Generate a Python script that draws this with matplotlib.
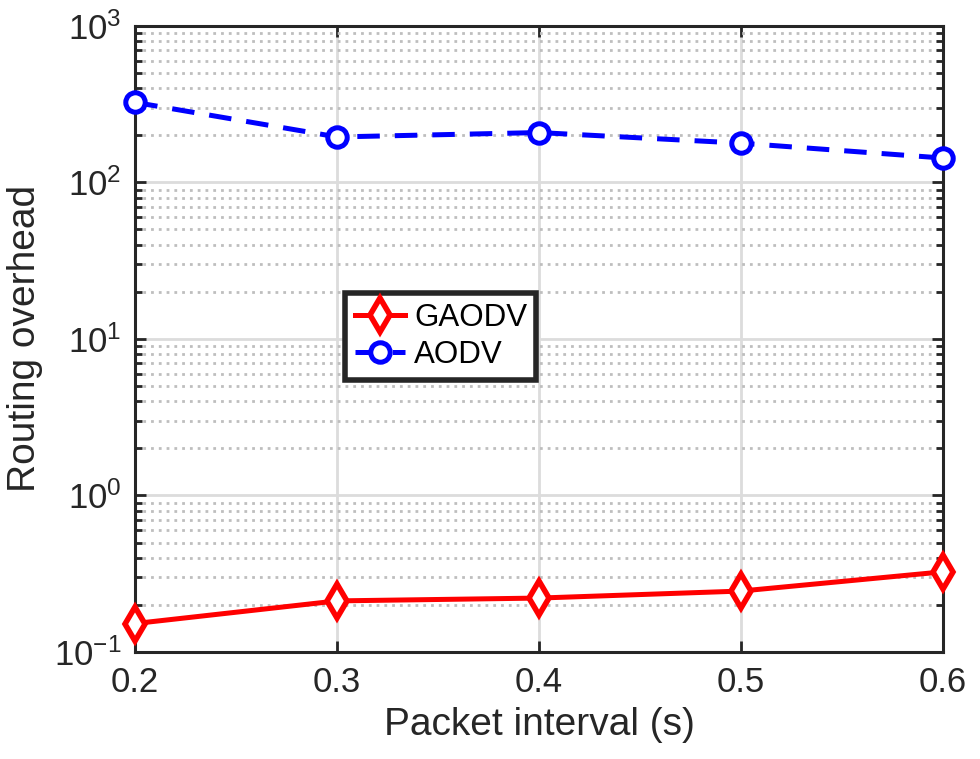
import matplotlib.pyplot as plt
import numpy as np

# values
interval = [0.2, 0.3, 0.4, 0.5, 0.6]
gaodv = [0.152, 0.212, 0.221, 0.245, 0.325]
aodv = [324, 195, 208, 178, 143]

plt.rcParams['font.family'] = ['Liberation Sans', 'DejaVu Sans']
plt.rcParams['mathtext.fontset'] = 'custom'
plt.rcParams['mathtext.rm'] = 'Liberation Sans'

fig = plt.figure(figsize=(9.8, 7.59), dpi=100)
ax = fig.add_axes([0.138, 0.141, 0.824, 0.825])

ax.plot(interval, gaodv, color='red', lw=3.6, marker='d', markersize=17,
        mew=4, mfc='white', mec='red', label='GAODV', clip_on=False, zorder=5)
ax.plot(interval, aodv, color='blue', lw=3.6, dashes=(4.5, 3), marker='o',
        markersize=14, mew=3.6, mfc='white', mec='blue', label='AODV',
        clip_on=False, zorder=5)

ax.set_yscale('log')
ax.set_xlim(0.2, 0.6)
ax.set_ylim(0.1, 1000)
ax.set_xticks(interval)
ax.set_xticklabels(['0.2', '0.3', '0.4', '0.5', '0.6'])

ax.grid(True, which='major', color='#dcdcdc', lw=2, ls='-')
ax.grid(True, which='minor', axis='y', color='#bebebe', lw=2, ls=(0, (1, 1.8)))
ax.set_axisbelow(True)

ax.tick_params(which='both', direction='in', top=True, right=True,
               colors='#262626', labelsize=25, width=2)
ax.tick_params(which='major', length=8, pad=10)
ax.tick_params(which='minor', length=5)
for s in ax.spines.values():
    s.set_linewidth(2.2)
    s.set_color('#262626')

ax.set_xlabel('Packet interval (s)', fontsize=28, color='#262626', labelpad=6)
ax.set_ylabel('Routing overhead', fontsize=28, color='#262626', labelpad=8)

leg = ax.legend(loc='upper left', bbox_to_anchor=(0.26, 0.573), fontsize=22.5,
                fancybox=False, framealpha=1, edgecolor='#262626',
                handlelength=1.6, handletextpad=0.3, borderpad=0.3,
                labelspacing=0.25, borderaxespad=0)
leg.get_frame().set_linewidth(4)

fig.savefig('out.png', dpi=100)
